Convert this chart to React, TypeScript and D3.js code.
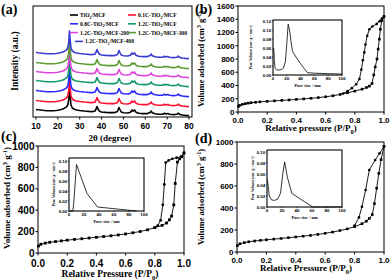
import React from "react";
import * as d3 from "d3";

const SANS = "'Liberation Sans', Arial, sans-serif";
const SERIF = "'Liberation Serif', 'Times New Roman', serif";

// ---------- (a) XRD ----------
const xrdTwoTheta = [10, 11, 12, 13, 14, 15, 16, 17, 18, 19, 20, 21, 22, 23, 24, 24.6, 25, 25.3, 25.6, 26, 26.6, 27.5, 28.5, 30, 32, 34, 36, 37, 37.5, 37.9, 38.4, 39, 40, 42, 44, 46, 47.3, 47.7, 48, 48.4, 49, 50, 52, 53.2, 53.9, 54.4, 55.1, 55.7, 57, 59, 61, 62.2, 62.7, 63.2, 64.5, 66, 68, 68.8, 69.5, 70.3, 71, 73, 74.5, 75.1, 75.7, 77, 78.5, 80];
const xrdProfile = [65, 62, 60, 57, 55, 53, 52, 52, 53, 55, 58, 62, 68, 78, 92, 115, 170, 280, 200, 110, 80, 68, 60, 55, 50, 46, 44, 50, 70, 95, 70, 48, 40, 36, 34, 34, 45, 70, 85, 65, 40, 32, 30, 38, 60, 48, 60, 38, 28, 24, 24, 35, 50, 32, 22, 18, 18, 28, 20, 26, 17, 14, 18, 28, 16, 10, 6, 4];
const xrdNames = ["TiO2/MCF", "0.1C-TiO2/MCF", "0.8C-TiO2/MCF", "1.2C-TiO2/MCF", "1.2C-TiO2/MCF-200", "1.2C-TiO2/MCF-300", "1.2C-TiO2/MCF-400"];
const xrdOffsets = [10, 100, 200, 300, 390, 480, 580];
const xrdColors = ["#000000", "#ff1030", "#2828ff", "#119a66", "#dd44dd", "#5a9a30", "#3a3ad0"];
const xrdTicks = [10, 20, 30, 40, 50, 60, 70, 80];

// ---------- (b) ----------
const bAdsP = [0.003, 0.01, 0.03, 0.05, 0.07, 0.09, 0.12, 0.15, 0.2, 0.25, 0.3, 0.35, 0.4, 0.45, 0.5, 0.55, 0.6, 0.65, 0.7, 0.75, 0.8, 0.85, 0.88, 0.9, 0.918, 0.93, 0.94, 0.952, 0.96, 0.968, 0.975, 0.985, 1.0];
const bAdsV = [85, 100, 115, 126, 134, 140, 147, 153, 161, 168, 175, 182, 190, 198, 207, 217, 230, 245, 265, 290, 315, 345, 370, 390, 430, 560, 680, 800, 950, 1100, 1250, 1380, 1440];
const bDesP = [1.0, 0.985, 0.97, 0.95, 0.92, 0.9, 0.885, 0.873, 0.865, 0.855, 0.845, 0.832, 0.81, 0.78, 0.75, 0.72];
const bDesV = [1440, 1410, 1370, 1330, 1290, 1250, 1150, 1020, 900, 780, 640, 500, 420, 360, 315, 280];
const bPoreSize = [1, 2, 3, 5, 8, 12, 15, 18, 20, 22, 24, 26, 28, 30, 35, 40, 45, 50, 60, 80, 100];
const bPoreVol = [0.06, 0.03, 0.015, 0.012, 0.011, 0.012, 0.015, 0.03, 0.07, 0.113, 0.1, 0.075, 0.055, 0.048, 0.036, 0.025, 0.015, 0.005, 0.004, 0.003, 0.002];

// ---------- (c) ----------
const cAdsP = [0.003, 0.02, 0.05, 0.08, 0.12, 0.16, 0.2, 0.25, 0.3, 0.35, 0.4, 0.45, 0.5, 0.55, 0.6, 0.65, 0.7, 0.75, 0.8, 0.85, 0.88, 0.9, 0.915, 0.93, 0.94, 0.955, 0.97, 0.985, 1.0];
const cAdsV = [65, 82, 92, 100, 107, 113, 120, 127, 133, 140, 147, 154, 161, 169, 178, 189, 201, 217, 237, 258, 280, 310, 345, 450, 650, 850, 880, 900, 935];
const cDesP = [1.0, 0.98, 0.95, 0.92, 0.895, 0.875, 0.865, 0.855, 0.84, 0.82, 0.8];
const cDesV = [935, 900, 890, 880, 865, 845, 640, 450, 305, 255, 237];
const cPoreSize = [0, 5, 6, 10, 24, 38, 90];
const cPoreVol = [0.0, 0.0, 0.01, 0.093, 0.035, 0.008, 0.0];

// ---------- (d) ----------
const dAdsP = [0.003, 0.02, 0.05, 0.08, 0.12, 0.16, 0.2, 0.25, 0.3, 0.35, 0.4, 0.45, 0.5, 0.55, 0.6, 0.65, 0.7, 0.75, 0.8, 0.85, 0.88, 0.9, 0.92, 0.935, 0.95, 0.965, 0.98, 1.0];
const dAdsV = [58, 75, 85, 93, 100, 106, 111, 117, 123, 130, 137, 144, 151, 160, 170, 181, 195, 210, 230, 257, 280, 305, 340, 440, 580, 715, 840, 960];
const dDesP = [1.0, 0.97, 0.94, 0.9, 0.875, 0.85, 0.83, 0.8];
const dDesV = [960, 897, 836, 745, 564, 412, 315, 240];
const dPoreSize = [0.5, 3, 6, 10, 14, 18, 21, 23.5, 27, 33, 45, 61, 80, 100];
const dPoreVol = [0.05, 0.02, 0.013, 0.012, 0.014, 0.025, 0.06, 0.082, 0.055, 0.025, 0.014, 0.0, 0.0, 0.0];

const isoXTicks = [0, 0.2, 0.4, 0.6, 0.8, 1.0];
const bYTicks = [0, 200, 400, 600, 800, 1000, 1200, 1400, 1600];
const cdYTicks = [0, 200, 400, 600, 800, 1000];
const poreXTicks = [0, 20, 40, 60, 80, 100];
const bPoreYTicks = [0, 0.02, 0.04, 0.06, 0.08, 0.1, 0.12];
const cdPoreYTicks = [0, 0.02, 0.04, 0.06, 0.08, 0.1];

const zip = (a: number[], b: number[]) => a.map((v, i) => [v, b[i]] as [number, number]);

function chem(label: string, fs: number) {
  const parts = label.split("TiO2");
  const out: any[] = [];
  parts.forEach((p, i) => {
    if (i > 0) {
      out.push(<tspan key={"t" + i}>TiO</tspan>);
      out.push(<tspan key={"s" + i} dy={fs * 0.3} fontSize={fs * 0.7}>2</tspan>);
      out.push(<tspan key={"r" + i} dy={-fs * 0.3}>{p}</tspan>);
    } else out.push(<tspan key={"p" + i}>{p}</tspan>);
  });
  return out;
}

type FrameProps = {
  x: d3.ScaleLinear<number, number>;
  y: d3.ScaleLinear<number, number>;
  box: [number, number, number, number];
  xTicks: number[];
  yTicks?: number[];
  xFmt: (v: number) => string;
  yFmt?: (v: number) => string;
  fs: number;
  tick: number;
  sw: number;
  xLabOff: number;
  yLabOff: number;
};

function Frame(p: FrameProps) {
  const [l, t, r, b] = p.box;
  return (
    <g>
      <rect x={l} y={t} width={r - l} height={b - t} fill="none" stroke="#000" strokeWidth={p.sw} />
      {p.xTicks.map((v) => (
        <g key={"x" + v}>
          <line x1={p.x(v)} x2={p.x(v)} y1={b} y2={b + p.tick} stroke="#000" strokeWidth={p.sw} />
          <text x={p.x(v)} y={b + p.xLabOff} textAnchor="middle" fontSize={p.fs} fontFamily={SANS} fontWeight="bold">
            {p.xFmt(v)}
          </text>
        </g>
      ))}
      {(p.yTicks || []).map((v) => (
        <g key={"y" + v}>
          <line x1={l - p.tick} x2={l} y1={p.y(v)} y2={p.y(v)} stroke="#000" strokeWidth={p.sw} />
          <text x={l - p.yLabOff} y={p.y(v)} dy="0.35em" textAnchor="end" fontSize={p.fs} fontFamily={SANS} fontWeight="bold">
            {p.yFmt ? p.yFmt(v) : String(v)}
          </text>
        </g>
      ))}
    </g>
  );
}

function VolTitle({ x, y, fs }: { x: number; y: number; fs: number }) {
  return (
    <text transform={`translate(${x},${y}) rotate(-90)`} textAnchor="middle" fontSize={fs} fontFamily={SERIF} fontWeight="bold">
      <tspan>Volume adsorbed (cm</tspan>
      <tspan dy={-fs * 0.35} fontSize={fs * 0.7}>3</tspan>
      <tspan dy={fs * 0.35}> g</tspan>
      <tspan dy={-fs * 0.35} fontSize={fs * 0.7}>-1</tspan>
      <tspan dy={fs * 0.35}>)</tspan>
    </text>
  );
}

function PTitle({ x, y, fs, text }: { x: number; y: number; fs: number; text: string }) {
  return (
    <text x={x} y={y} textAnchor="middle" fontSize={fs} fontFamily={SERIF} fontWeight="bold">
      <tspan>{text} (P/P</tspan>
      <tspan dy={fs * 0.3} fontSize={fs * 0.7}>0</tspan>
      <tspan dy={-fs * 0.3}>)</tspan>
    </text>
  );
}

function Isotherm(props: {
  box: [number, number, number, number];
  yMax: number;
  yTicks: number[];
  ads: [number, number][];
  des: [number, number][];
  fs: number;
  ms: number;
  xLabOff: number;
}) {
  const [l, t, r, b] = props.box;
  const x = d3.scaleLinear().domain([0, 1]).range([l, r]);
  const y = d3.scaleLinear().domain([0, props.yMax]).range([b, t]);
  const line = d3.line<[number, number]>().x((d) => x(d[0])).y((d) => y(d[1]));
  return (
    <g>
      <Frame x={x} y={y} box={props.box} xTicks={isoXTicks} yTicks={props.yTicks} xFmt={(v) => v.toFixed(1)} fs={props.fs} tick={2.5} sw={1} xLabOff={props.xLabOff} yLabOff={3.5} />
      <path d={line(props.ads) || ""} fill="none" stroke="#000" strokeWidth={0.9} />
      <path d={line(props.des) || ""} fill="none" stroke="#000" strokeWidth={0.9} />
      {props.ads.map((d, i) => (
        <rect key={"a" + i} x={x(d[0]) - props.ms / 2} y={y(d[1]) - props.ms / 2} width={props.ms} height={props.ms} fill="#000" />
      ))}
      {props.des.map((d, i) => (
        <circle key={"d" + i} cx={x(d[0])} cy={y(d[1])} r={props.ms / 2} fill="#000" />
      ))}
    </g>
  );
}

function Inset(props: {
  box: [number, number, number, number];
  plotTop: number;
  yMax: number;
  yTicks: number[];
  data: [number, number][];
  titleX: number;
  titleY: number;
}) {
  const [l, t, r, b] = props.box;
  const x = d3.scaleLinear().domain([0, 100]).range([l, r]);
  const y = d3.scaleLinear().domain([0, props.yMax]).range([b, props.plotTop]);
  const line = d3.line<[number, number]>().x((d) => x(d[0])).y((d) => y(d[1]));
  const fs = 4.4;
  return (
    <g>
      <rect x={l} y={t} width={r - l} height={b - t} fill="#fff" stroke="#000" strokeWidth={0.7} />
      <Frame x={x} y={y} box={props.box} xTicks={poreXTicks} yTicks={props.yTicks} xFmt={(v) => String(v)} yFmt={(v) => v.toFixed(2)} fs={fs} tick={1.2} sw={0.6} xLabOff={fs + 1} yLabOff={1.8} />
      <path d={line(props.data) || ""} fill="none" stroke="#000" strokeWidth={0.8} />
      <text x={(l + r) / 2} y={props.titleY} textAnchor="middle" fontSize={4.4} fontFamily={SERIF} fontWeight="bold">Pore size / nm</text>
      <text transform={`translate(${props.titleX},${(t + b) / 2}) rotate(-90)`} textAnchor="middle" fontSize={3.8} fontFamily={SERIF} fontWeight="bold">
        <tspan>Pore Volume (cm</tspan>
        <tspan dy={-1.2} fontSize={2.7}>3</tspan>
        <tspan dy={1.2}> g</tspan>
        <tspan dy={-1.2} fontSize={2.7}>-1</tspan>
        <tspan dy={1.2}> nm</tspan>
        <tspan dy={-1.2} fontSize={2.7}>-1</tspan>
        <tspan dy={1.2}>)</tspan>
      </text>
    </g>
  );
}

function XRD() {
  const box: [number, number, number, number] = [33, 6, 192, 117];
  const x = d3.scaleLinear().domain([10, 80]).range([36, 189]);
  const y = d3.scaleLinear().domain([0, 1110]).range([117, 6]);
  const line = d3.line<[number, number]>().x((d) => x(d[0])).y((d) => y(d[1]));
  const legend = [
    [0, 0], [1, 0], [0, 1], [1, 1], [0, 2], [1, 2], [0, 3],
  ];
  const lfs = 5.6;
  return (
    <g>
      {xrdNames.map((n, i) => (
        <path key={n} d={line(xrdTwoTheta.map((t, k) => [t, xrdProfile[k] + xrdOffsets[i]] as [number, number])) || ""} fill="none" stroke={xrdColors[i]} strokeWidth={1.6} strokeLinejoin="round" />
      ))}
      <Frame x={x} y={y} box={box} xTicks={xrdTicks} xFmt={(v) => String(v)} fs={8.5} tick={2.5} sw={1} xLabOff={12} yLabOff={3} />
      {xrdNames.map((n, i) => {
        const [c, rw] = legend[i];
        const lx = c === 0 ? (rw === 3 ? 75 : 70) : 128;
        const ly = 15 + rw * 8.8;
        return (
          <g key={"lg" + n}>
            <line x1={lx} x2={lx + 8} y1={ly} y2={ly} stroke={xrdColors[i]} strokeWidth={1.6} />
            <text x={lx + 10} y={ly} dy="0.35em" fontSize={lfs} fontFamily={SERIF} fontWeight="bold">{chem(n, lfs)}</text>
          </g>
        );
      })}
      <text transform="translate(18,61) rotate(-90)" textAnchor="middle" fontSize={9.5} fontFamily={SERIF} fontWeight="bold">Intensity (a.u.)</text>
      <text x={110} y={141} textAnchor="middle" fontSize={9} fontFamily={SERIF} fontWeight="bold">2θ (degree)</text>
    </g>
  );
}

export default function App() {
  const bAds = zip(bAdsP, bAdsV), bDes = zip(bDesP, bDesV);
  const cAds = zip(cAdsP, cAdsV), cDes = zip(cDesP, cDesV);
  const dAds = zip(dAdsP, dAdsV), dDes = zip(dDesP, dDesV);
  return (
    <div style={{ position: "fixed", left: 0, top: 0 }}>
      <svg width={392} height={280} viewBox="0 0 392 280" style={{ display: "block", background: "#fff" }}>
        <rect width={392} height={280} fill="#fff" />
        <XRD />
        {/* (b) */}
        <Isotherm box={[238, 6, 384, 112]} yMax={1600} yTicks={bYTicks} ads={bAds} des={bDes} fs={8} ms={2.6} xLabOff={10.5} />
        <Inset box={[273, 20, 342, 75]} plotTop={21} yMax={0.12} yTicks={bPoreYTicks} data={zip(bPoreSize, bPoreVol)} titleX={252} titleY={86.5} />
        <VolTitle x={204} y={59} fs={8.5} />
        <PTitle x={311} y={131} fs={9} text="Relative pressure" />
        {/* (c) */}
        <Isotherm box={[38, 146, 184, 253]} yMax={1000} yTicks={cdYTicks} ads={cAds} des={cDes} fs={10} ms={2.8} xLabOff={13.5} />
        <Inset box={[69, 158, 144, 211]} plotTop={161} yMax={0.1} yTicks={cdPoreYTicks} data={zip(cPoreSize, cPoreVol)} titleX={55} titleY={222.5} />
        <VolTitle x={10} y={198} fs={9} />
        <PTitle x={110} y={277} fs={9.5} text="Relative Pressure" />
        {/* (d) */}
        <Isotherm box={[237, 142, 384, 252]} yMax={1000} yTicks={cdYTicks} ads={dAds} des={dDes} fs={8} ms={2.6} xLabOff={10.5} />
        <Inset box={[267, 150, 342, 207]} plotTop={152} yMax={0.1} yTicks={cdPoreYTicks} data={zip(dPoreSize, dPoreVol)} titleX={254} titleY={218.5} />
        <VolTitle x={204} y={197} fs={8.5} />
        <PTitle x={306} y={271} fs={9} text="Relative Pressure" />
        {/* panel labels */}
        <text x={1} y={14} fontSize={14} fontFamily={SERIF} fontWeight="bold">(a)</text>
        <text x={195} y={14} fontSize={14} fontFamily={SERIF} fontWeight="bold">(b)</text>
        <text x={1} y={141} fontSize={14} fontFamily={SERIF} fontWeight="bold">(c)</text>
        <text x={195} y={143} fontSize={14} fontFamily={SERIF} fontWeight="bold">(d)</text>
      </svg>
    </div>
  );
}
